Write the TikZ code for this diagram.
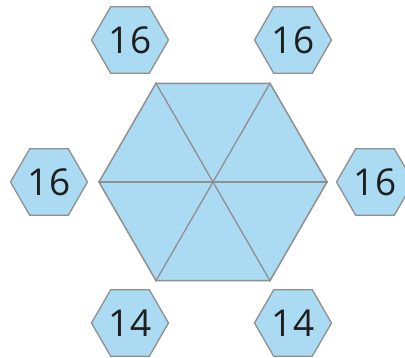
\documentclass[tikz,border=0pt]{standalone}
\usepackage{fontspec}
\setmainfont{Open Sans}
\usetikzlibrary{shapes.geometric}
\definecolor{hexfill}{HTML}{ABDBF2}
\definecolor{hexline}{HTML}{8F8F8F}
\definecolor{numcol}{HTML}{1E1E1E}
\begin{document}
\begin{tikzpicture}[x=1pt,y=-1pt,
  smallhex/.style={regular polygon, regular polygon sides=6, minimum size=77pt, inner sep=0pt,
    fill=hexfill, draw=hexline, line width=1.3pt, text=numcol, font=\fontsize{37}{37}\selectfont},
  bighex/.style={regular polygon, regular polygon sides=6, minimum size=228pt, inner sep=0pt,
    fill=hexfill, draw=hexline, line width=1.5pt},
  spoke/.style={draw=hexline, line width=1.3pt}]
\useasboundingbox (0,0) rectangle (405,358);
\node[bighex] (big) at (213,182) {};
\draw[spoke] (big.corner 1) -- (big.corner 4);
\draw[spoke] (big.corner 2) -- (big.corner 5);
\draw[spoke] (big.corner 3) -- (big.corner 6);
\node[smallhex] (tl) at (130,40) {16};
\node[smallhex] (tr) at (293,40) {16};
\node[smallhex] (l) at (49,182) {16};
\node[smallhex] (r) at (375,182) {16};
\node[smallhex] (bl) at (130,323) {14};
\node[smallhex] (br) at (293,323) {14};
\end{tikzpicture}
\end{document}
